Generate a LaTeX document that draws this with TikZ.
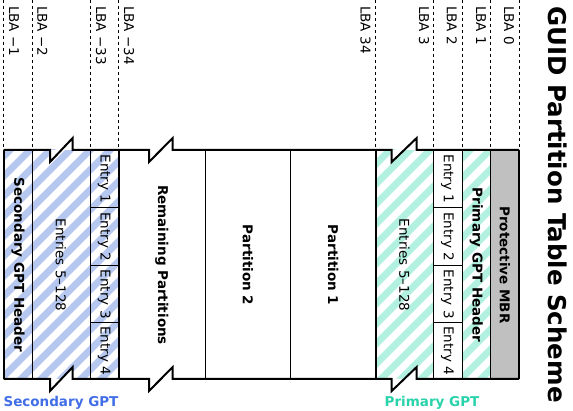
\documentclass[tikz,border=0pt]{standalone}
\usepackage{fontspec}
\setmainfont{DejaVu Sans}
\definecolor{bstripe}{RGB}{182,200,240}
\definecolor{tstripe}{RGB}{178,240,224}
\definecolor{mbrgray}{RGB}{192,192,192}
\definecolor{bluetxt}{RGB}{65,110,230}
\definecolor{tealtxt}{RGB}{40,210,170}
\begin{document}
\begin{tikzpicture}[x=1pt,y=-1pt,
  lbl/.style={rotate=-90,inner sep=0pt,font=\fontsize{13.5}{16}\selectfont},
  blbl/.style={lbl,font=\fontsize{13.5}{16}\selectfont\bfseries},
  lba/.style={lbl,anchor=west},
  thickln/.style={line width=2pt},
  thinln/.style={line width=1pt},
  dashln/.style={line width=0.8pt,dash pattern=on 3.5pt off 2.5pt},
  stripe/.style={line width=7pt}
]
\useasboundingbox (0,0) rectangle (573,411);

% secondary hatch
\begin{scope}
\clip (3.5,150) rectangle (118.5,379);
\foreach \c in {-420,-400,...,200} \draw[stripe,bstripe] (\c,420) -- (\c+420,0);
\end{scope}
% primary hatch
\begin{scope}
\clip (375.7,150) rectangle (490.7,379);
\foreach \c in {-100,-80,...,520} \draw[stripe,tstripe] (\c,420) -- (\c+420,0);
\end{scope}
\fill[white] (433,150) rectangle (462,379);
\fill[mbrgray] (490.7,150) rectangle (519,379);

% break notches
\foreach \a/\b in {50/72.7,149/172.7,391.7/416.7}{
  \fill[white] (\a,150) -- (\a,162) -- (\b,138) -- (\b,150) -- cycle;
  \fill[white] (\a,379) -- (\a,391) -- (\b,367) -- (\b,379) -- cycle;
}

% dashed LBA lines
\foreach \x in {3.5,32.5,90,118.5,375.7,433,462,490.7,519}
  \draw[dashln] (\x,0) -- (\x,150);

% borders
\draw[thickln] (3.5,150) -- (50,150) -- (50,162) -- (72.7,138) -- (72.7,150)
  -- (149,150) -- (149,162) -- (172.7,138) -- (172.7,150)
  -- (391.7,150) -- (391.7,162) -- (416.7,138) -- (416.7,150) -- (519,150);
\draw[thickln] (3.5,379) -- (50,379) -- (50,391) -- (72.7,367) -- (72.7,379)
  -- (149,379) -- (149,391) -- (172.7,367) -- (172.7,379)
  -- (391.7,379) -- (391.7,391) -- (416.7,367) -- (416.7,379) -- (519,379);
\foreach \x in {3.5,118.5,375.7,519} \draw[thickln] (\x,150) -- (\x,379);
\foreach \x in {32.5,90,205,290.7,433,462,490.7} \draw[thinln] (\x,150) -- (\x,379);
\foreach \y in {208,265.7,322.7} {
  \draw[thinln] (90,\y) -- (118.5,\y);
  \draw[thinln] (433,\y) -- (462,\y);
}

% LBA labels
\node[lba] (lm1) at (14,6) {LBA −1};
\node[lba] (lm2) at (42.5,6) {LBA −2};
\node[lba] (lm33) at (101,6) {LBA −33};
\node[lba] (lm34) at (129,6) {LBA −34};
\node[lba] (l34) at (365.5,6) {LBA 34};
\node[lba] (l3) at (424,6) {LBA 3};
\node[lba] (l2) at (452,6) {LBA 2};
\node[lba] (l1) at (481,6) {LBA 1};
\node[lba] (l0) at (509,6) {LBA 0};

% column texts
\node[blbl] (sgh) at (18,265) {Secondary GPT Header};
\node[lbl] (se) at (61,265) {Entries 5–128};
\node[lbl] (se1) at (104.2,179) {Entry 1};
\node[lbl] (se2) at (104.2,236.8) {Entry 2};
\node[lbl] (se3) at (104.2,294.2) {Entry 3};
\node[lbl] (se4) at (104.2,350.8) {Entry 4};
\node[blbl] (rp) at (161.7,265) {Remaining Partitions};
\node[blbl] (p2) at (247.9,265) {Partition 2};
\node[blbl] (p1) at (333.2,265) {Partition 1};
\node[lbl] (pe) at (404.3,265) {Entries 5–128};
\node[lbl] (pe1) at (447.5,179) {Entry 1};
\node[lbl] (pe2) at (447.5,236.8) {Entry 2};
\node[lbl] (pe3) at (447.5,294.2) {Entry 3};
\node[lbl] (pe4) at (447.5,350.8) {Entry 4};
\node[blbl] (pgh) at (476.3,265) {Primary GPT Header};
\node[blbl] (mbr) at (504.8,265) {Protective MBR};

% group labels
\node[inner sep=0pt,font=\fontsize{13.5}{16}\selectfont\bfseries,text=bluetxt] (sec) at (61,403) {Secondary GPT};
\node[inner sep=0pt,font=\fontsize{13.5}{16}\selectfont\bfseries,text=tealtxt] (pri) at (432,403) {Primary GPT};

% title
\node[rotate=-90,inner sep=0pt,anchor=west,font=\fontsize{24.5}{28}\selectfont\bfseries] (title) at (558,6) {GUID Partition Table Scheme};
\end{tikzpicture}
\end{document}
